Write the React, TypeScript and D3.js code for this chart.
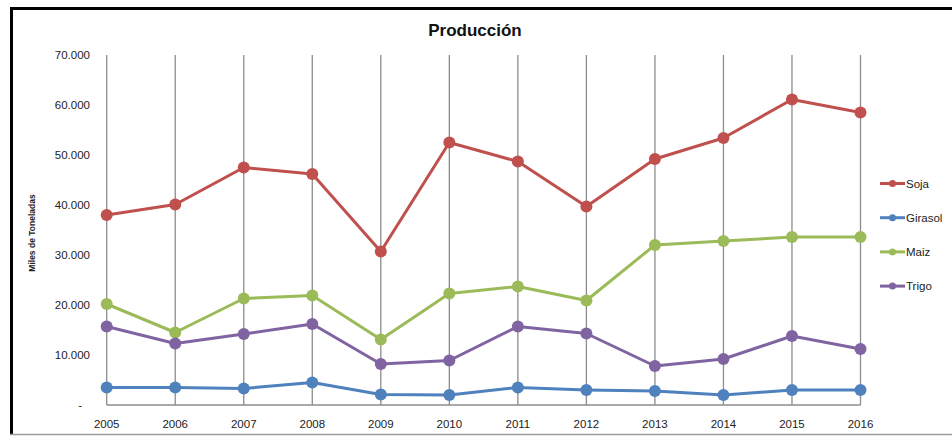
import React from "react";
import * as d3 from "d3";

const years = ["2005","2006","2007","2008","2009","2010","2011","2012","2013","2014","2015","2016"];
const soja = [38.0,40.1,47.5,46.2,30.7,52.5,48.7,39.7,49.2,53.4,61.1,58.5];
const girasol = [3.5,3.5,3.3,4.5,2.1,2.0,3.5,3.0,2.8,2.0,3.0,3.0];
const maiz = [20.2,14.5,21.3,21.9,13.1,22.3,23.7,20.9,32.0,32.8,33.6,33.6];
const trigo = [15.7,12.3,14.2,16.2,8.2,8.9,15.7,14.3,7.8,9.2,13.8,11.2];
const seriesNames = ["Soja","Girasol","Maiz","Trigo"];
const seriesColors = ["#C0504D","#4F81BD","#9BBB59","#8064A2"];
const yTicks = [0,10,20,30,40,50,60,70];
const title = "Producción";
const yLabel = "Miles de Toneladas";

export default function App() {
  const W = 952, H = 438;
  const seriesData = [soja, girasol, maiz, trigo];
  const x = d3.scalePoint<string>().domain(years).range([106.7, 860.5]);
  const y = d3.scaleLinear().domain([0, 70]).range([405, 55]);
  const line = d3.line<number>().x((_, i) => x(years[i])!).y((d) => y(d));
  const fmt = (v: number) => (v === 0 ? "-" : `${v}.000`);
  const font = "'Liberation Sans', Arial, sans-serif";
  return (
    <svg width={W} height={H} style={{ position: "absolute", left: 0, top: 0, background: "#fff" }}>
      <rect x={0} y={0} width={W} height={H} fill="#fff" />
      {/* frame */}
      <line x1={10} x2={W} y1={8.5} y2={8.5} stroke="#000" strokeWidth={3} />
      <line x1={11.5} x2={11.5} y1={7} y2={435} stroke="#000" strokeWidth={3} />
      <line x1={10} x2={W} y1={434.5} y2={434.5} stroke="#9a9a9a" strokeWidth={1.5} />
      <text x={475} y={36} textAnchor="middle" fontFamily={font} fontWeight="bold" fontSize={17} fill="#111">{title}</text>
      {/* vertical gridlines */}
      {years.map((yr) => (
        <line key={yr} x1={x(yr)} x2={x(yr)} y1={55} y2={405} stroke="#8c8c8c" strokeWidth={1.3} />
      ))}
      <line x1={106.7} x2={860.5} y1={405} y2={405} stroke="#8c8c8c" strokeWidth={1.3} />
      {/* y ticks */}
      {yTicks.map((t) => (
        <text key={t} x={t === 0 ? 82 : 90} y={y(t) + 4} textAnchor="end" fontFamily={font} fontSize={11.5} fill="#222">{fmt(t)}</text>
      ))}
      {years.map((yr) => (
        <text key={yr} x={x(yr)} y={428} textAnchor="middle" fontFamily={font} fontSize={11.5} fill="#222">{yr}</text>
      ))}
      <text transform="translate(35,233) rotate(-90)" textAnchor="middle" fontFamily={font} fontWeight="bold" fontSize={8.5} fill="#222">{yLabel}</text>
      {/* series */}
      {seriesData.map((s, si) => (
        <g key={si}>
          <path d={line(s)!} fill="none" stroke={seriesColors[si]} strokeWidth={3} strokeLinejoin="round" />
          {s.map((v, i) => (
            <circle key={i} cx={x(years[i])} cy={y(v)} r={6} fill={seriesColors[si]} />
          ))}
        </g>
      ))}
      {/* legend */}
      {seriesNames.map((n, i) => {
        const ly = 183.5 + i * 34.2;
        return (
          <g key={n}>
            <line x1={880} x2={905} y1={ly} y2={ly} stroke={seriesColors[i]} strokeWidth={3} />
            <circle cx={892.5} cy={ly} r={3.5} fill={seriesColors[i]} />
            <text x={906} y={ly + 4} fontFamily={font} fontSize={11.5} fill="#222">{n}</text>
          </g>
        );
      })}
    </svg>
  );
}
